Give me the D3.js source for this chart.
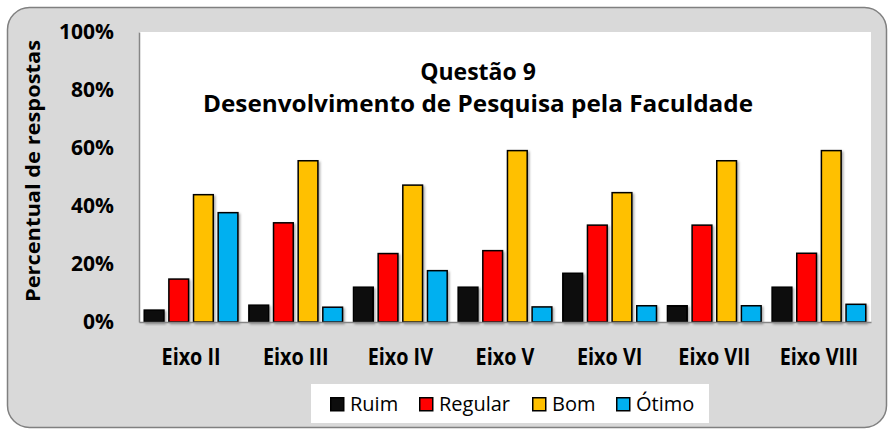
<!DOCTYPE html>
<html>
<head>
<meta charset="utf-8">
<script src="https://cdn.jsdelivr.net/npm/d3@7"></script>
<style>
  body { margin: 0; background: #fff; }
  svg { display: block; font-family: "Open Sans", "Noto Sans", sans-serif; }
</style>
</head>
<body>
<svg id="chart"></svg>
<script>
const width = 894;
const height = 434;

// data
const categories = ["Eixo II", "Eixo III", "Eixo IV", "Eixo V", "Eixo VI", "Eixo VII", "Eixo VIII"];
const seriesNames = ["Ruim", "Regular", "Bom", "Ótimo"];
const ruim = [0.041, 0.058, 0.120, 0.120, 0.168, 0.056, 0.120];
const regular = [0.148, 0.342, 0.236, 0.246, 0.334, 0.334, 0.237];
const bom = [0.439, 0.556, 0.472, 0.591, 0.446, 0.556, 0.591];
const otimo = [0.377, 0.051, 0.177, 0.052, 0.056, 0.056, 0.061];
const yTicks = [0, 0.2, 0.4, 0.6, 0.8, 1];

const seriesColors = {
    "Ruim": "#0d0d0d",
    "Regular": "#ff0000",
    "Bom": "#ffc000",
    "Ótimo": "#00b0f0"
};

const seriesValues = [ruim, regular, bom, otimo];
const rows = categories.map((c, i) => ({
    cat: c,
    values: seriesNames.map((s, j) => ({ key: s, value: seriesValues[j][i] }))
}));

const svg = d3.select("#chart")
    .attr("width", width)
    .attr("height", height);

// outer chart area
svg.append("rect")
    .attr("x", 7.5).attr("y", 7.5)
    .attr("width", 879).attr("height", 420)
    .attr("rx", 22).attr("ry", 22)
    .attr("fill", "#d9d9d9")
    .attr("stroke", "#808080")
    .attr("stroke-width", 1.5);

const plot = { left: 139, right: 871, top: 32, bottom: 322 };

// plot area
svg.append("rect")
    .attr("x", plot.left).attr("y", plot.top)
    .attr("width", plot.right - plot.left)
    .attr("height", plot.bottom - plot.top)
    .attr("fill", "#ffffff");

const x0 = d3.scaleBand()
    .domain(categories)
    .range([plot.left, plot.right])
    .paddingInner(0.105)
    .paddingOuter(0.05);

const x1 = d3.scaleBand()
    .domain(seriesNames)
    .range([0, x0.bandwidth()])
    .paddingInner(0.2)
    .paddingOuter(0);

const y = d3.scaleLinear()
    .domain([0, 1])
    .range([plot.bottom, plot.top]);

// bar shadow
const defs = svg.append("defs");
const f = defs.append("filter").attr("id", "shadow")
    .attr("x", "-20%").attr("y", "-20%").attr("width", "150%").attr("height", "150%");
f.append("feDropShadow")
    .attr("dx", 1.5).attr("dy", 1.5).attr("stdDeviation", 0.8)
    .attr("flood-color", "#000").attr("flood-opacity", 0.35);

const groups = svg.append("g").selectAll("g")
    .data(rows)
    .enter().append("g")
    .attr("transform", d => `translate(${x0(d.cat)},0)`);

groups.selectAll("rect")
    .data(d => d.values)
    .enter().append("rect")
    .attr("x", d => x1(d.key))
    .attr("y", d => y(d.value))
    .attr("width", x1.bandwidth())
    .attr("height", d => y(0) - y(d.value))
    .attr("fill", d => seriesColors[d.key])
    .attr("stroke", "#000")
    .attr("stroke-width", 1.5)
    .attr("filter", "url(#shadow)");

// axes
const yAxis = svg.append("g")
    .attr("transform", `translate(${plot.left},0)`)
    .call(d3.axisLeft(y).tickValues(yTicks).tickFormat(d3.format(".0%")).tickSize(0).tickPadding(25));
yAxis.select(".domain").attr("stroke", "#868686").attr("stroke-width", 1.5);
yAxis.selectAll("text")
    .attr("font-size", 21).attr("font-weight", "bold")
    .attr("fill", "#000")
    .attr("font-family", "'Open Sans', sans-serif");

const xAxis = svg.append("g")
    .attr("transform", `translate(0,${plot.bottom})`)
    .call(d3.axisBottom(x0).tickSize(0).tickPadding(27));
xAxis.select(".domain").attr("stroke", "#868686").attr("stroke-width", 1.5);
xAxis.selectAll("text")
    .attr("font-size", 23).attr("font-weight", "bold")
    .attr("fill", "#000")
    .attr("font-family", "'Open Sans', sans-serif")
    .each(function() {
        // Calibri-like narrow look
        const w = this.getComputedTextLength();
        d3.select(this).attr("textLength", w * 0.86).attr("lengthAdjust", "spacingAndGlyphs");
    });

// title
const title = svg.append("text")
    .attr("x", 478)
    .attr("text-anchor", "middle")
    .attr("font-weight", "bold")
    .attr("font-size", 23)
    .attr("fill", "#000");
title.append("tspan").attr("x", 478).attr("y", 80).text("Questão 9");
title.append("tspan").attr("x", 478).attr("y", 112)
    .attr("textLength", 550).attr("lengthAdjust", "spacingAndGlyphs")
    .text("Desenvolvimento de Pesquisa pela Faculdade");

// y axis title
svg.append("text")
    .attr("transform", "translate(40,171) rotate(-90)")
    .attr("text-anchor", "middle")
    .attr("font-weight", "bold")
    .attr("font-size", 20)
    .attr("textLength", 262).attr("lengthAdjust", "spacingAndGlyphs")
    .text("Percentual de respostas");

// legend
svg.append("rect")
    .attr("x", 311).attr("y", 384)
    .attr("width", 398).attr("height", 39)
    .attr("fill", "#fff");

const legendX = { "Ruim": 330, "Regular": 419, "Bom": 532, "Ótimo": 616 };
const legend = svg.append("g").selectAll("g")
    .data(seriesNames)
    .enter().append("g")
    .attr("transform", d => `translate(${legendX[d]},397)`);
legend.append("rect")
    .attr("x", 0.75).attr("y", 0.75)
    .attr("width", 13).attr("height", 13)
    .attr("fill", d => seriesColors[d])
    .attr("stroke", "#000").attr("stroke-width", 1.5);
legend.append("text")
    .attr("x", 20).attr("y", 14)
    .attr("font-size", 20)
    .text(d => d);
</script>
</body>
</html>
